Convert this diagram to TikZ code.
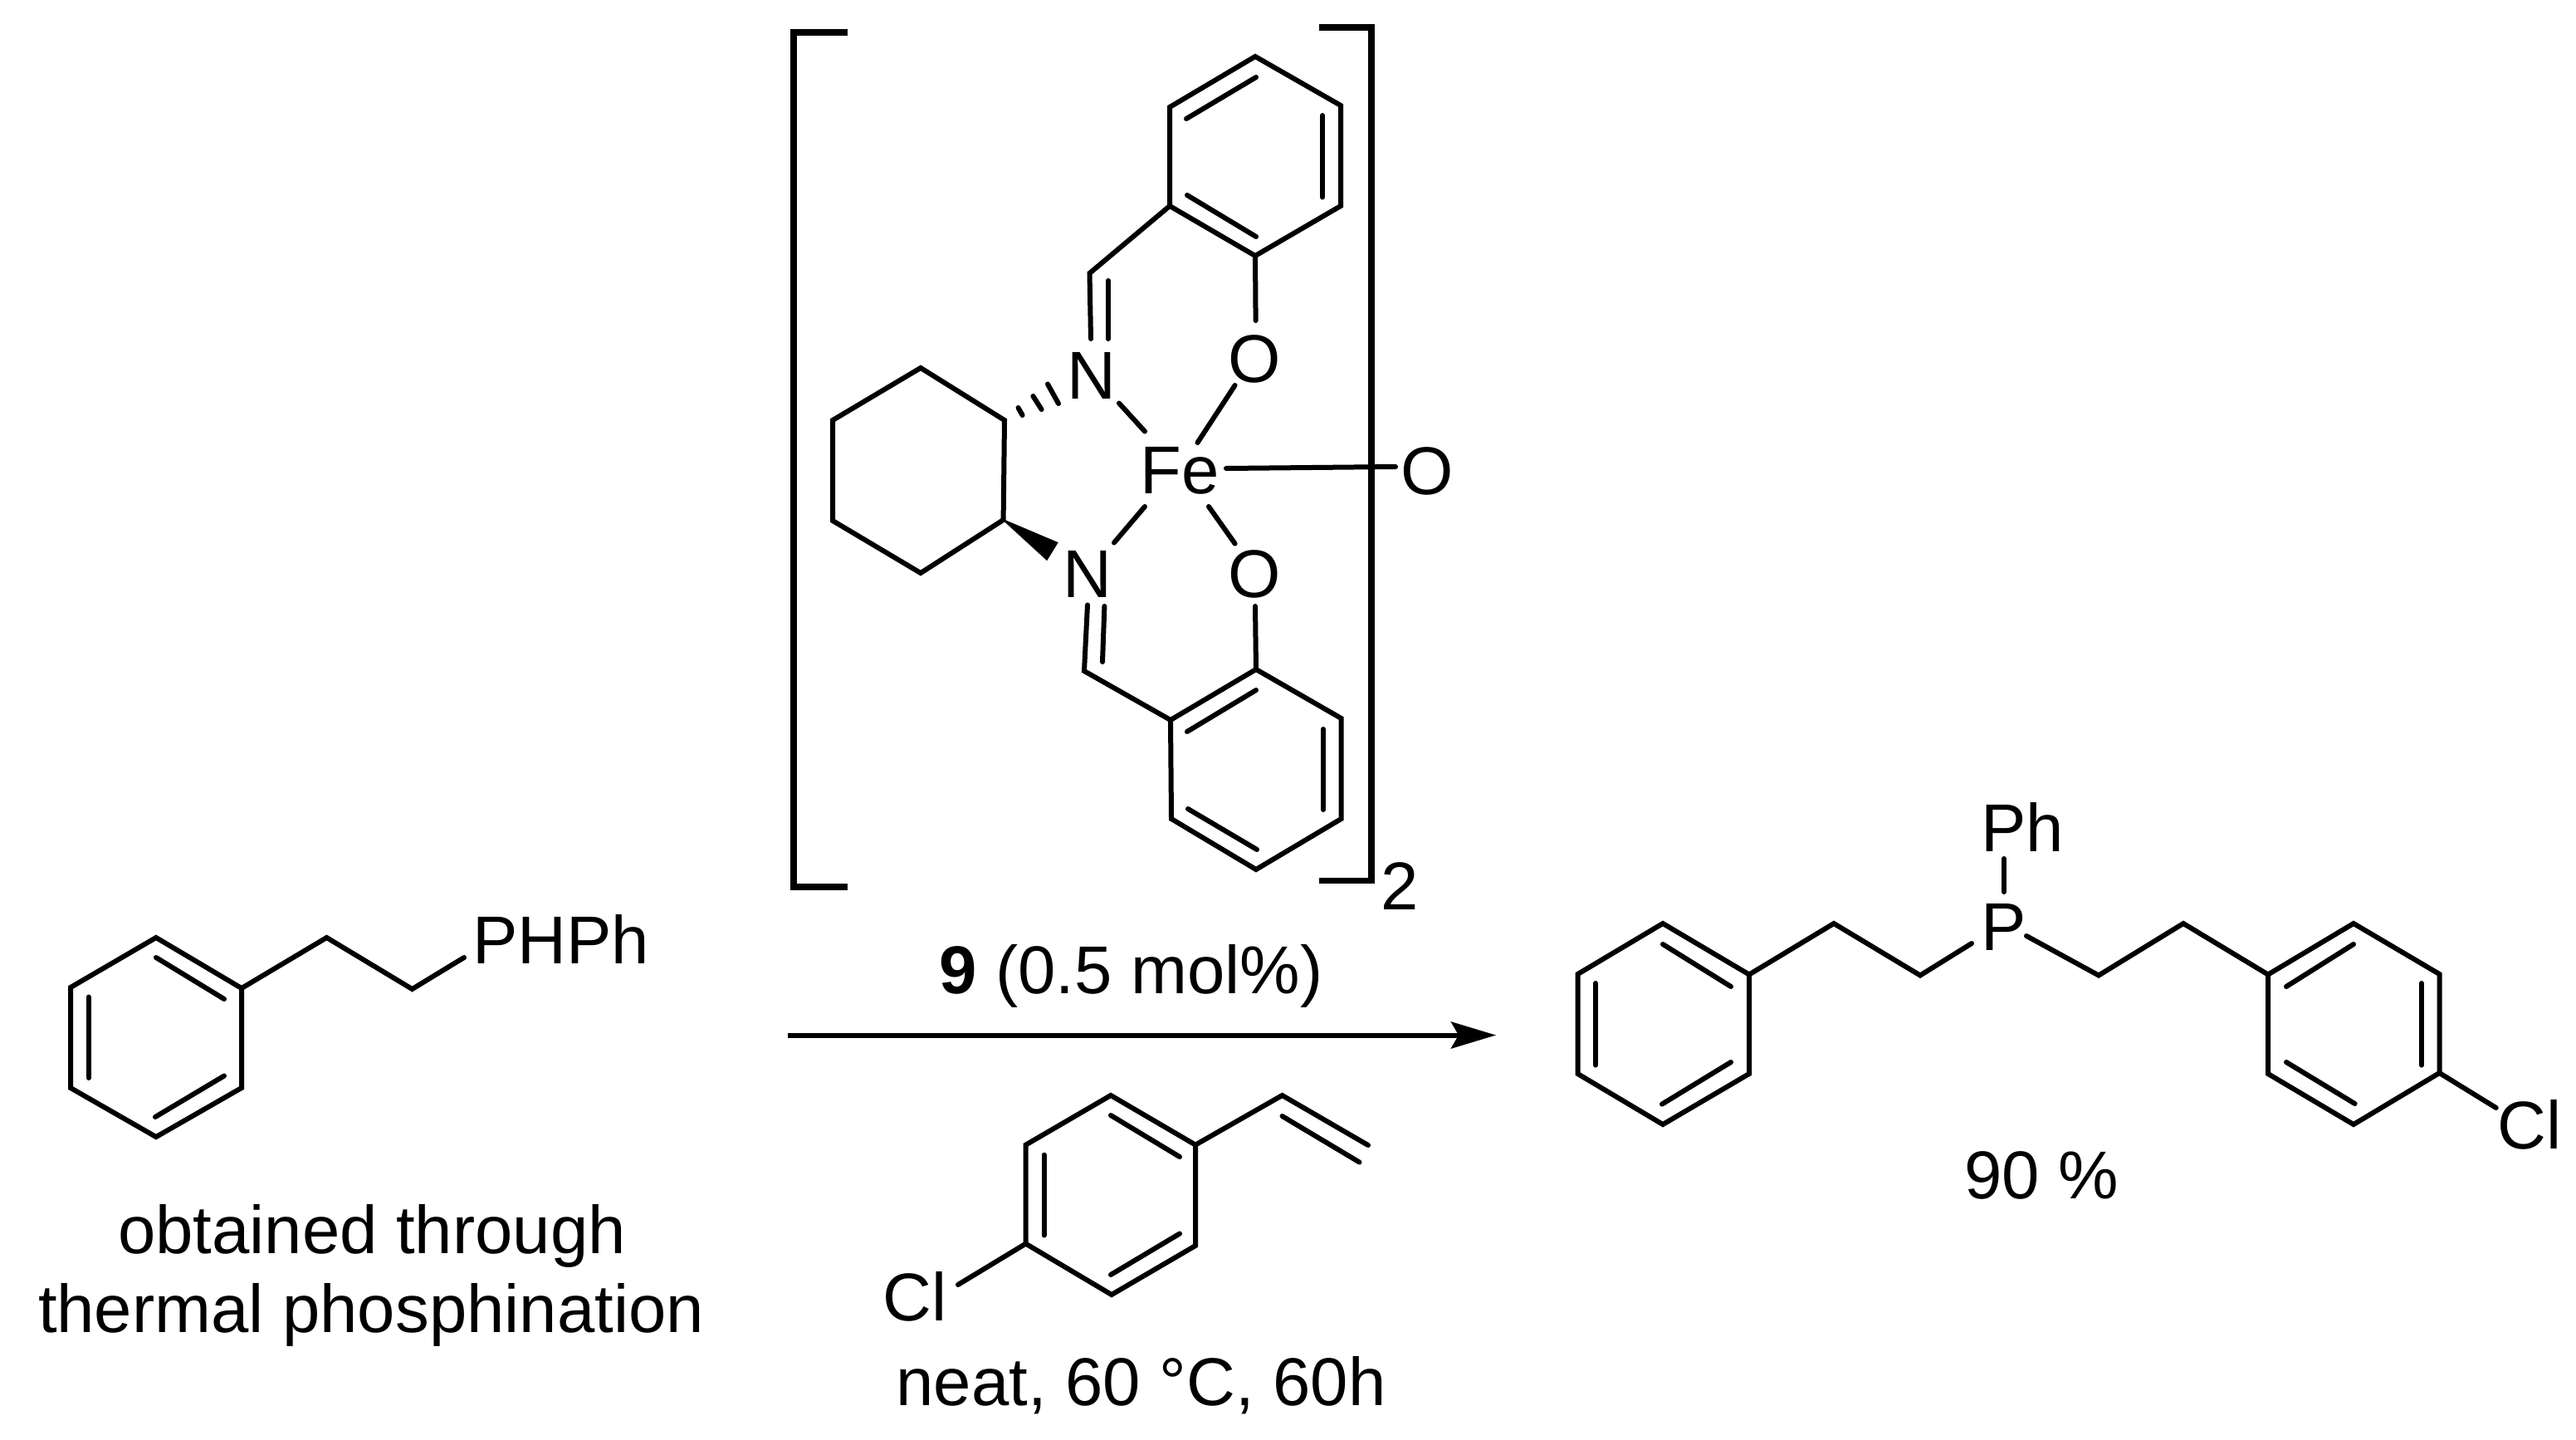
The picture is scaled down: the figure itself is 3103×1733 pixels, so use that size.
\documentclass[tikz,border=0pt]{standalone}
\usepackage{fontspec}
\setmainfont{Liberation Sans}
\usetikzlibrary{arrows.meta}
\tikzset{
  bond/.style={draw=black,line width=6pt,line cap=round,line join=miter},
  bracket/.style={draw=black,line width=7.5pt,line cap=butt,line join=miter},
  hash/.style={draw=black,line width=6pt,line cap=round},
  wedge/.style={fill=black,draw=black,line width=1.5pt},
  rarrow/.style={draw=black,line width=6pt,-{Stealth[length=54pt,width=32pt,inset=9pt]}},
  txt/.style={inner sep=0pt,outer sep=0pt,anchor=base,text=black,font=\fontsize{81.5}{96}\selectfont},
}
\newcommand{\ringcoords}[7]{%
  \coordinate (#1a) at #2; \coordinate (#1b) at #3; \coordinate (#1c) at #4;
  \coordinate (#1d) at #5; \coordinate (#1e) at #6; \coordinate (#1f) at #7;
  \draw[bond] (#1a)--(#1b)--(#1c)--(#1d)--(#1e)--(#1f)--cycle;}
\begin{document}
\begin{tikzpicture}[x=1pt,y=-1pt]
\useasboundingbox (0,0) rectangle (3103,1733);
\fill[white] (0,0) rectangle (3103,1733);

% ---------- catalyst ----------
\coordinate (lbt) at (1021,39); \coordinate (lbtc) at (956,39);
\coordinate (lbbc) at (956,1068); \coordinate (lbb) at (1021,1068);
\coordinate (rbt) at (1589,33); \coordinate (rbtc) at (1652,33);
\coordinate (rbbc) at (1652,1060.5); \coordinate (rbb) at (1589,1060.5);
\draw[bracket] (lbt)--(lbtc)--(lbbc)--(lbb);
\draw[bracket] (rbt)--(rbtc)--(rbbc)--(rbb);

\node[txt] (Oup) at (1511,460) {O};
\node[txt] (Nup) at (1315,480) {N};
\node[txt] (Fe) at (1421,594) {Fe};
\node[txt] (Oax) at (1719,595) {O};
\node[txt] (Nlo) at (1310,719) {N};
\node[txt] (Olo) at (1511,719) {O};
\node[txt] (two) at (1686,1095) {2};

% upper aryl
\ringcoords{u}{(1512,68)}{(1615,127)}{(1615,248)}{(1512,308)}{(1409,248)}{(1409,129)}
\coordinate (ui1) at (1513,93); \coordinate (ui2) at (1429,143);
\coordinate (ui3) at (1593,139); \coordinate (ui4) at (1593,237.5);
\coordinate (ui5) at (1430,235); \coordinate (ui6) at (1513,285);
\draw[bond] (ui1)--(ui2); \draw[bond] (ui3)--(ui4); \draw[bond] (ui5)--(ui6);
% upper imine
\coordinate (ch1) at (1312.5,329);
\coordinate (n1a) at (1314,408); \coordinate (n1b) at (1335,338); \coordinate (n1c) at (1335,408);
\draw[bond] (ue)--(ch1)--(n1a); \draw[bond] (n1b)--(n1c);
\coordinate (ou1) at (1512.6,386);
\draw[bond] (ud)--(ou1);
% metal bonds
\coordinate (nf1) at (1348,485.5); \coordinate (nf2) at (1379,519.5);
\coordinate (of1) at (1487.6,464); \coordinate (of2) at (1442.5,533);
\coordinate (fa1) at (1477,564); \coordinate (fa2) at (1681,562);
\coordinate (nf3) at (1379,610); \coordinate (nf4) at (1342,653.5);
\coordinate (of3) at (1456,610); \coordinate (of4) at (1487.6,654.6);
\draw[bond] (nf1)--(nf2); \draw[bond] (of1)--(of2); \draw[bond] (fa1)--(fa2);
\draw[bond] (nf3)--(nf4); \draw[bond] (of3)--(of4);
% cyclohexane
\ringcoords{c}{(1109,443)}{(1210,506)}{(1208.6,626)}{(1109,690)}{(1003,627)}{(1003,506)}
% hashed bond
\coordinate (h1a) at (1226.5,491); \coordinate (h1b) at (1231.6,500);
\coordinate (h2a) at (1244.4,477); \coordinate (h2b) at (1254.6,493);
\coordinate (h3a) at (1262,462.5); \coordinate (h3b) at (1275,486);
\draw[hash] (h1a)--(h1b); \draw[hash] (h2a)--(h2b); \draw[hash] (h3a)--(h3b);
% wedge bond
\coordinate (w1) at (1273.6,653.5); \coordinate (w2) at (1261,674);
\filldraw[wedge] (cc)--(w1)--(w2)--cycle;
% lower imine
\ringcoords{l}{(1513,806)}{(1615.6,865)}{(1615.6,986)}{(1513,1047)}{(1411,986)}{(1410,867)}
\coordinate (ch2) at (1306,808);
\coordinate (n2a) at (1310,728.5); \coordinate (n2b) at (1330.4,730); \coordinate (n2c) at (1328,797);
\draw[bond] (lf)--(ch2)--(n2a); \draw[bond] (n2b)--(n2c);
\coordinate (ol1) at (1512,730);
\draw[bond] (ol1)--(la);
\coordinate (li1) at (1513,831); \coordinate (li2) at (1430,881);
\coordinate (li3) at (1594,878); \coordinate (li4) at (1594,975);
\coordinate (li5) at (1431,974); \coordinate (li6) at (1514,1023);
\draw[bond] (li1)--(li2); \draw[bond] (li3)--(li4); \draw[bond] (li5)--(li6);

% ---------- substrate ----------
\ringcoords{s}{(188,1129)}{(291,1190)}{(291,1310)}{(188,1369)}{(85,1310)}{(85,1189)}
\coordinate (sc1) at (393.5,1129); \coordinate (sc2) at (496.5,1191); \coordinate (sc3) at (559,1153);
\draw[bond] (sb)--(sc1)--(sc2)--(sc3);
\coordinate (si1) at (188,1153); \coordinate (si2) at (270,1203);
\coordinate (si3) at (106.6,1200.5); \coordinate (si4) at (106.6,1298);
\coordinate (si5) at (270,1295.5); \coordinate (si6) at (187,1345);
\draw[bond] (si1)--(si2); \draw[bond] (si3)--(si4); \draw[bond] (si5)--(si6);
\node[txt] (phph) at (675.5,1160) {PHPh};
\node[txt] (obt1) at (448,1509) {obtained through};
\node[txt] (obt2) at (447,1604) {thermal phosphination};

% ---------- reaction arrow ----------
\coordinate (astart) at (948.6,1246.5); \coordinate (aend) at (1802,1246.5);
\draw[rarrow] (astart)--(aend);
\node[txt] (cat) at (1362.5,1196) {\textbf{9} (0.5 mol\%)};

% ---------- styrene ----------
\ringcoords{v}{(1338,1319)}{(1440,1378.6)}{(1440,1500)}{(1339,1559)}{(1235.6,1497.6)}{(1235.6,1378.6)}
\coordinate (vi1) at (1338,1343); \coordinate (vi2) at (1421,1393);
\coordinate (vi3) at (1257.5,1390.7); \coordinate (vi4) at (1257.5,1487.5);
\coordinate (vi5) at (1421,1485.5); \coordinate (vi6) at (1338,1535);
\draw[bond] (vi1)--(vi2); \draw[bond] (vi3)--(vi4); \draw[bond] (vi5)--(vi6);
\coordinate (vv1) at (1544.5,1319); \coordinate (vv2) at (1648,1379);
\coordinate (vv3) at (1544.5,1344); \coordinate (vv4) at (1637.5,1399.5);
\draw[bond] (vb)--(vv1)--(vv2); \draw[bond] (vv3)--(vv4);
\coordinate (vcl) at (1154,1547);
\draw[bond] (ve)--(vcl);
\node[txt] (cl1) at (1102,1590) {Cl};
\node[txt] (cond) at (1374.5,1692) {neat, 60 °C, 60h};

% ---------- product ----------
\ringcoords{p}{(2003,1112)}{(2107,1173.5)}{(2107,1293)}{(2003,1354)}{(1900.5,1293)}{(1900.5,1173)}
\coordinate (pi1) at (2003,1137); \coordinate (pi2) at (2085,1188);
\coordinate (pi3) at (1922,1184); \coordinate (pi4) at (1922,1282.6);
\coordinate (pi5) at (2085,1279); \coordinate (pi6) at (2002,1329.6);
\draw[bond] (pi1)--(pi2); \draw[bond] (pi3)--(pi4); \draw[bond] (pi5)--(pi6);
\coordinate (pc1) at (2209,1112); \coordinate (pc2) at (2313,1174.5); \coordinate (pc3) at (2375,1136);
\draw[bond] (pb)--(pc1)--(pc2)--(pc3);
\node[txt] (pP) at (2414,1144) {P};
\node[txt] (pPh) at (2436,1025) {Ph};
\coordinate (pb1) at (2414,1034); \coordinate (pb2) at (2414,1074);
\draw[bond] (pb1)--(pb2);
\coordinate (pd1) at (2441,1127); \coordinate (pd2) at (2528,1174.5); \coordinate (pd3) at (2630,1112);
\ringcoords{q}{(2835,1112)}{(2938.5,1173)}{(2938.5,1292)}{(2835,1354)}{(2732,1293)}{(2732,1173.5)}
\draw[bond] (pd1)--(pd2)--(pd3)--(qf);
\coordinate (qi1) at (2835,1137); \coordinate (qi2) at (2754,1188);
\coordinate (qi3) at (2917,1184); \coordinate (qi4) at (2917,1282.6);
\coordinate (qi5) at (2754,1279); \coordinate (qi6) at (2836.6,1329);
\draw[bond] (qi1)--(qi2); \draw[bond] (qi3)--(qi4); \draw[bond] (qi5)--(qi6);
\coordinate (qcl) at (3006.7,1334);
\draw[bond] (qc)--(qcl);
\node[txt] (cl2) at (3047,1383) {Cl};
\node[txt] (yield) at (2459.5,1443) {90 \%};
\end{tikzpicture}
\end{document}
